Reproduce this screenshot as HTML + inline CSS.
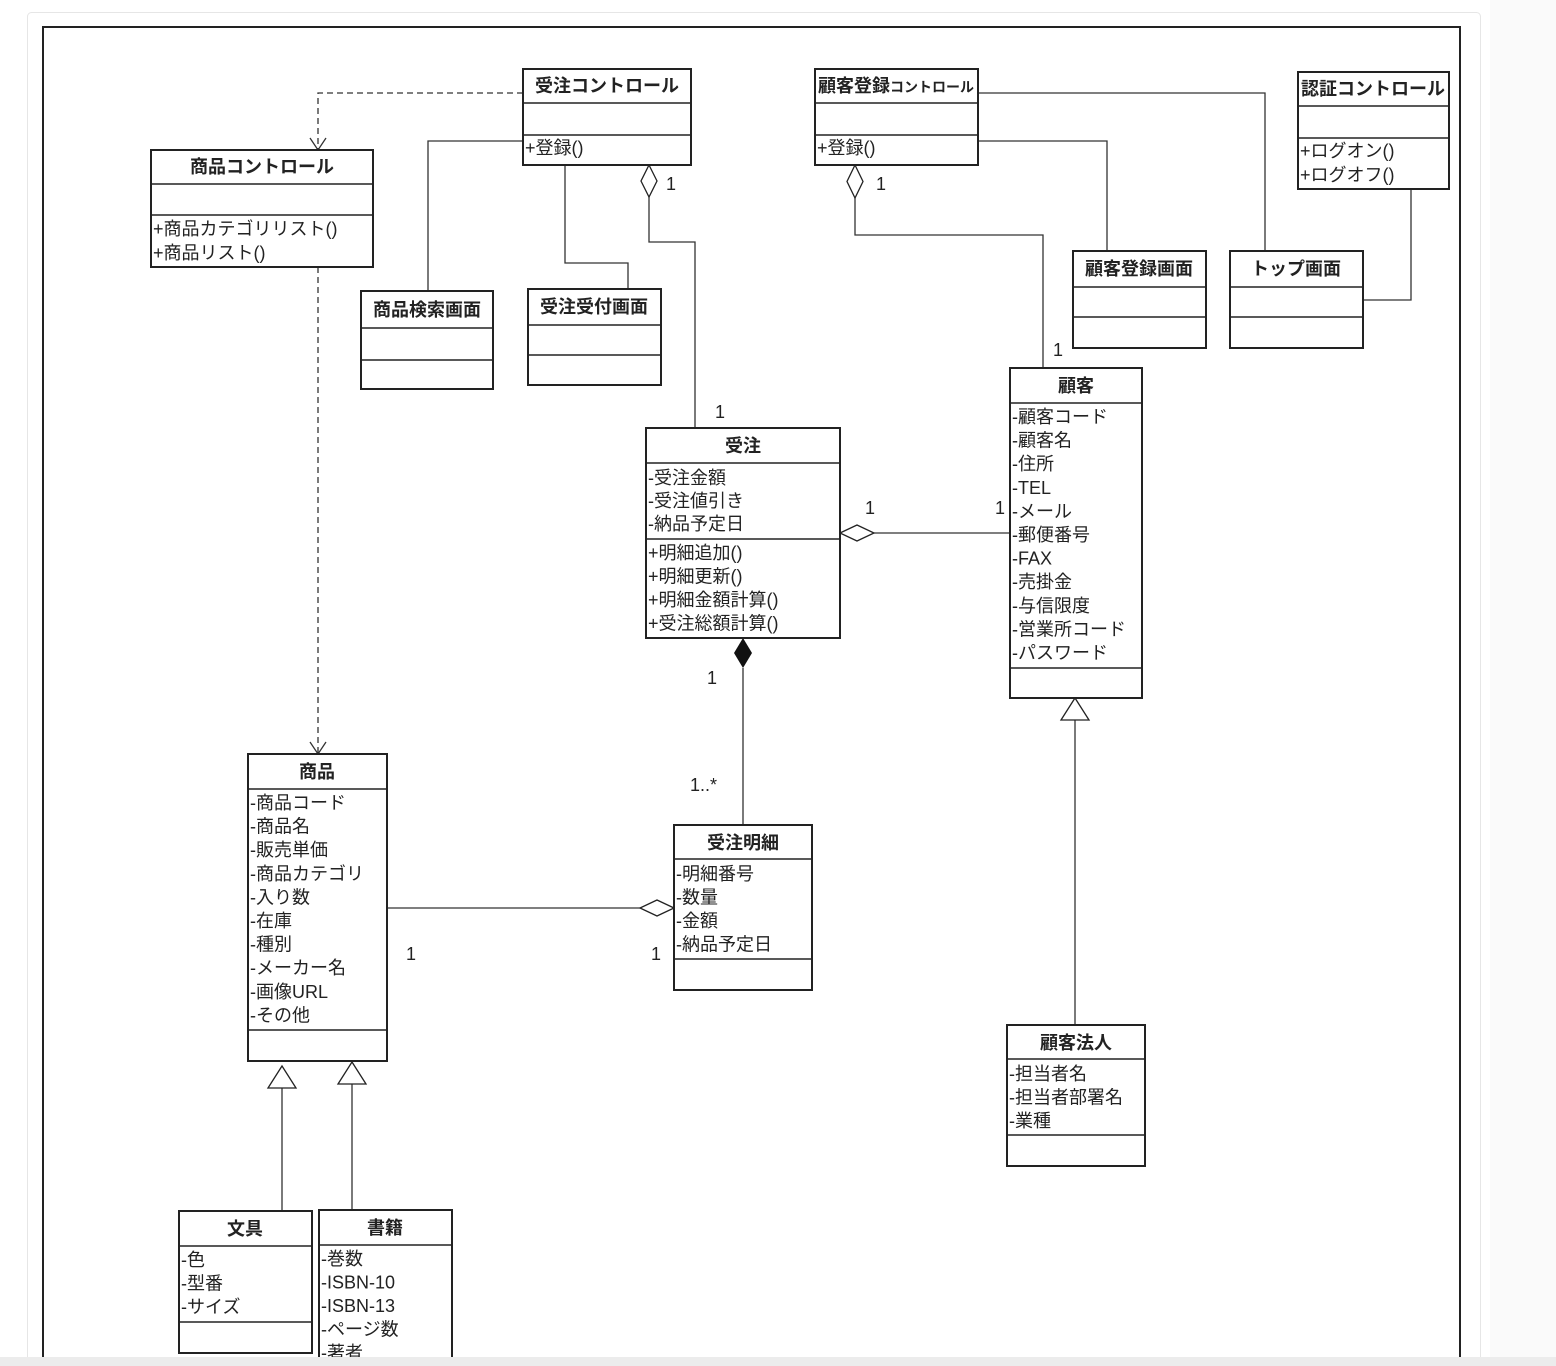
<!DOCTYPE html>
<html><head><meta charset="utf-8"><style>
html,body{margin:0;padding:0;background:#fff;width:1556px;height:1366px;overflow:hidden}
svg{display:block}
text{font-family:"Liberation Sans","Noto Sans CJK JP",sans-serif;font-size:18px;fill:#222}
.t{font-weight:bold;text-anchor:middle}
.b{fill:#fff;stroke:#222;stroke-width:2}
.l{stroke:#333;stroke-width:1.3;fill:none}
.d{stroke:#222;stroke-width:1.6}
</style></head><body>
<svg width="1556" height="1366" viewBox="0 0 1556 1366">
<rect x="27.5" y="12.5" width="1453" height="1360" rx="4" fill="#fff" stroke="#e6e6e6"/>
<rect x="1490" y="0" width="66" height="1366" fill="#fafafa"/>
<rect x="43" y="27" width="1417" height="1345" fill="#fff" stroke="#222" stroke-width="2"/>

<!-- connectors -->
<g class="l">
<path d="M523 93 H318 V150" stroke-dasharray="6 4"/>
<path d="M310 138 L318 150 L326 138"/>
<path d="M318 267 V754" stroke-dasharray="6 4"/>
<path d="M310 742 L318 754 L326 742"/>
<path d="M523 141 H428 V291"/>
<path d="M565 165 V263 H628 V289"/>
<path d="M649 197 V242 H695 V428"/>
<path d="M978 93 H1265 V251"/>
<path d="M978 141 H1107 V251"/>
<path d="M855 198 V235 H1043 V368"/>
<path d="M1411 189 V300 H1363"/>
<path d="M874 533 H1010"/>
<path d="M743 668 V825"/>
<path d="M387 908 H640"/>
<path d="M1075 720 V1025"/>
<path d="M282 1088 V1211"/>
<path d="M352 1084 V1210"/>
</g>
<path d="M649 165 L657 181 L649 197 L641 181 Z" fill="#fff" stroke="#222" stroke-width="1.3"/>
<path d="M855 165 L863 181.5 L855 198 L847 181.5 Z" fill="#fff" stroke="#222" stroke-width="1.3"/>
<path d="M840 533 L857 525 L874 533 L857 541 Z" fill="#fff" stroke="#222" stroke-width="1.3"/>
<path d="M674 908 L657 900 L640 908 L657 916 Z" fill="#fff" stroke="#222" stroke-width="1.3"/>
<path d="M743 638 L752 653 L743 668 L734 653 Z" fill="#111"/>
<path d="M1075 698 L1089 720 L1061 720 Z" fill="#fff" stroke="#222" stroke-width="1.3"/>
<path d="M282 1066 L296 1088 L268 1088 Z" fill="#fff" stroke="#222" stroke-width="1.3"/>
<path d="M352 1062 L366 1084 L338 1084 Z" fill="#fff" stroke="#222" stroke-width="1.3"/>

<!-- multiplicities -->
<text x="666" y="190" font-size="20">1</text>
<text x="876" y="190" font-size="20">1</text>
<text x="715" y="418" font-size="20">1</text>
<text x="1053" y="356" font-size="20">1</text>
<text x="865" y="514" font-size="20">1</text>
<text x="995" y="514" font-size="20">1</text>
<text x="707" y="684" font-size="16">1</text>
<text x="690" y="791" font-size="16">1..*</text>
<text x="406" y="960" font-size="20">1</text>
<text x="651" y="960" font-size="20">1</text>

<!-- boxes -->
<g>
<rect class="b" x="523" y="69" width="168" height="96"/><line class="d" x1="523" y1="103" x2="691" y2="103"/><line class="d" x1="523" y1="135" x2="691" y2="135"/>
<text class="t" x="607" y="92">受注コントロール</text><text x="525" y="154">+登録()</text>

<rect class="b" x="151" y="150" width="222" height="117"/><line class="d" x1="151" y1="184" x2="373" y2="184"/><line class="d" x1="151" y1="215" x2="373" y2="215"/>
<text class="t" x="262" y="173">商品コントロール</text><text x="153" y="235">+商品カテゴリリスト()</text><text x="153" y="259">+商品リスト()</text>

<rect class="b" x="815" y="69" width="163" height="96"/><line class="d" x1="815" y1="103" x2="978" y2="103"/><line class="d" x1="815" y1="135" x2="978" y2="135"/>
<text class="t" x="896" y="92" font-size="17">顧客登録<tspan font-size="14">コントロール</tspan></text><text x="817" y="154">+登録()</text>

<rect class="b" x="1298" y="72" width="151" height="117"/><line class="d" x1="1298" y1="106" x2="1449" y2="106"/><line class="d" x1="1298" y1="138" x2="1449" y2="138"/>
<text class="t" x="1373" y="95">認証コントロール</text><text x="1300" y="157">+ログオン()</text><text x="1300" y="181">+ログオフ()</text>

<rect class="b" x="361" y="291" width="132" height="98"/><line class="d" x1="361" y1="328" x2="493" y2="328"/><line class="d" x1="361" y1="360" x2="493" y2="360"/>
<text class="t" x="427" y="316">商品検索画面</text>

<rect class="b" x="528" y="289" width="133" height="96"/><line class="d" x1="528" y1="325" x2="661" y2="325"/><line class="d" x1="528" y1="355" x2="661" y2="355"/>
<text class="t" x="594" y="313">受注受付画面</text>

<rect class="b" x="1073" y="251" width="133" height="97"/><line class="d" x1="1073" y1="287" x2="1206" y2="287"/><line class="d" x1="1073" y1="317" x2="1206" y2="317"/>
<text class="t" x="1139" y="275">顧客登録画面</text>

<rect class="b" x="1230" y="251" width="133" height="97"/><line class="d" x1="1230" y1="287" x2="1363" y2="287"/><line class="d" x1="1230" y1="317" x2="1363" y2="317"/>
<text class="t" x="1296" y="275">トップ画面</text>

<rect class="b" x="1010" y="368" width="132" height="330"/><line class="d" x1="1010" y1="403" x2="1142" y2="403"/><line class="d" x1="1010" y1="668" x2="1142" y2="668"/>
<text class="t" x="1076" y="392">顧客</text>
<text x="1012" y="423">-顧客コード</text><text x="1012" y="446.6">-顧客名</text><text x="1012" y="470.2">-住所</text><text x="1012" y="493.8">-TEL</text><text x="1012" y="517.4">-メール</text><text x="1012" y="541">-郵便番号</text><text x="1012" y="564.6">-FAX</text><text x="1012" y="588.2">-売掛金</text><text x="1012" y="611.8">-与信限度</text><text x="1012" y="635.4">-営業所コード</text><text x="1012" y="659">-パスワード</text>

<rect class="b" x="646" y="428" width="194" height="210"/><line class="d" x1="646" y1="463" x2="840" y2="463"/><line class="d" x1="646" y1="539" x2="840" y2="539"/>
<text class="t" x="743" y="452">受注</text>
<text x="648" y="484">-受注金額</text><text x="648" y="507">-受注値引き</text><text x="648" y="530">-納品予定日</text>
<text x="648" y="559">+明細追加()</text><text x="648" y="582.5">+明細更新()</text><text x="648" y="606">+明細金額計算()</text><text x="648" y="629.5">+受注総額計算()</text>

<rect class="b" x="674" y="825" width="138" height="165"/><line class="d" x1="674" y1="859" x2="812" y2="859"/><line class="d" x1="674" y1="959" x2="812" y2="959"/>
<text class="t" x="743" y="849">受注明細</text>
<text x="676" y="880">-明細番号</text><text x="676" y="903.5">-数量</text><text x="676" y="927">-金額</text><text x="676" y="950.5">-納品予定日</text>

<rect class="b" x="248" y="754" width="139" height="307"/><line class="d" x1="248" y1="789" x2="387" y2="789"/><line class="d" x1="248" y1="1030" x2="387" y2="1030"/>
<text class="t" x="317" y="778">商品</text>
<text x="250" y="809">-商品コード</text><text x="250" y="832.6">-商品名</text><text x="250" y="856.2">-販売単価</text><text x="250" y="879.8">-商品カテゴリ</text><text x="250" y="903.4">-入り数</text><text x="250" y="927">-在庫</text><text x="250" y="950.6">-種別</text><text x="250" y="974.2">-メーカー名</text><text x="250" y="997.8">-画像URL</text><text x="250" y="1021.4">-その他</text>

<rect class="b" x="1007" y="1025" width="138" height="141"/><line class="d" x1="1007" y1="1059" x2="1145" y2="1059"/><line class="d" x1="1007" y1="1135" x2="1145" y2="1135"/>
<text class="t" x="1076" y="1049">顧客法人</text>
<text x="1009" y="1080">-担当者名</text><text x="1009" y="1103.5">-担当者部署名</text><text x="1009" y="1127">-業種</text>

<rect class="b" x="179" y="1211" width="133" height="142"/><line class="d" x1="179" y1="1246" x2="312" y2="1246"/><line class="d" x1="179" y1="1322" x2="312" y2="1322"/>
<text class="t" x="245" y="1235">文具</text>
<text x="181" y="1266">-色</text><text x="181" y="1289.5">-型番</text><text x="181" y="1313">-サイズ</text>

<rect class="b" x="319" y="1210" width="133" height="170"/><line class="d" x1="319" y1="1245" x2="452" y2="1245"/>
<text class="t" x="385" y="1234">書籍</text>
<text x="321" y="1265">-巻数</text><text x="321" y="1288.5">-ISBN-10</text><text x="321" y="1312">-ISBN-13</text><text x="321" y="1335.5">-ページ数</text><text x="321" y="1359">-著者</text>
</g>
<rect x="0" y="1357" width="1556" height="9" fill="#ececec"/>
</svg>
</body></html>
